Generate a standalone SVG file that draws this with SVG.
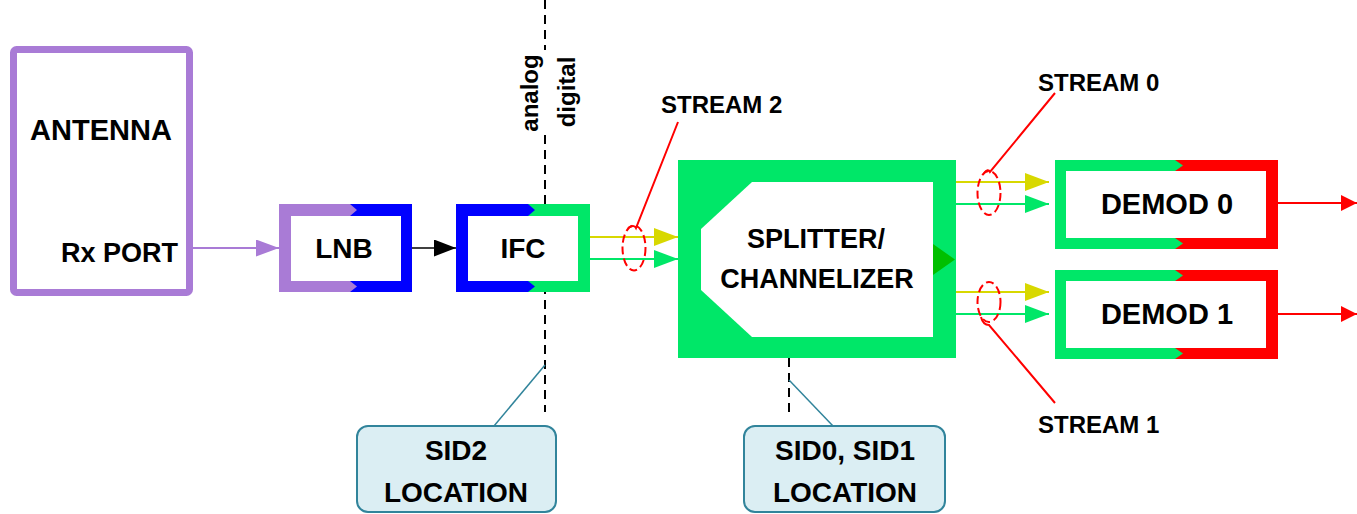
<svg xmlns="http://www.w3.org/2000/svg" width="1357" height="514" viewBox="0 0 1357 514">
  <style>
    .lbl { font-family: "Liberation Sans", Arial, sans-serif; font-weight: bold; fill: #000; }
    .mid { text-anchor: middle; }
    .dash { stroke: #000; stroke-width: 2; stroke-dasharray: 9 6; fill: none; }
    .lasso { fill: none; stroke: #ff0000; stroke-width: 2; stroke-dasharray: 8 4; }
    .lead { stroke: #ff0000; stroke-width: 2; fill: none; }
    .sid { fill: #dbeef3; stroke: #31849b; stroke-width: 2; }
    .sidlead { stroke: #31849b; stroke-width: 1.5; fill: none; }
  </style>
  <defs>
    <marker id="ahPurple" markerUnits="userSpaceOnUse" markerWidth="23" markerHeight="17" refX="23" refY="8.5" orient="auto">
      <path d="M0,0 L23,8.5 L0,17 z" fill="#a97bd6"/>
    </marker>
    <marker id="ahBlack" markerUnits="userSpaceOnUse" markerWidth="22" markerHeight="17" refX="22" refY="8.5" orient="auto">
      <path d="M0,0 L22,8.5 L0,17 z" fill="#000"/>
    </marker>
    <marker id="ahYellow" markerUnits="userSpaceOnUse" markerWidth="24" markerHeight="18" refX="24" refY="9" orient="auto">
      <path d="M0,0 L24,9 L0,18 z" fill="#d8d800"/>
    </marker>
    <marker id="ahGreen" markerUnits="userSpaceOnUse" markerWidth="24" markerHeight="18" refX="24" refY="9" orient="auto">
      <path d="M0,0 L24,9 L0,18 z" fill="#00e768"/>
    </marker>
    <marker id="ahRed" markerUnits="userSpaceOnUse" markerWidth="16" markerHeight="16" refX="16" refY="8" orient="auto">
      <path d="M0,0 L16,8 L0,16 z" fill="#ff0000"/>
    </marker>
  </defs>

  <!-- analog / digital boundary -->
  <g id="boundary">
    <line class="dash" x1="545" y1="0" x2="545" y2="50"/>
    <line class="dash" x1="545" y1="135" x2="545" y2="412"/>
    <text class="lbl mid" font-size="24" transform="translate(538,93) rotate(-90)">analog</text>
    <text class="lbl mid" font-size="24" transform="translate(575,92) rotate(-90)">digital</text>
    <line class="dash" x1="789" y1="358" x2="789" y2="413"/>
  </g>

  <!-- connectors -->
  <g id="connectors">
    <line x1="193" y1="248" x2="279" y2="248" stroke="#a97bd6" stroke-width="2" marker-end="url(#ahPurple)"/>
    <line x1="412" y1="248" x2="456" y2="248" stroke="#000" stroke-width="1.5" marker-end="url(#ahBlack)"/>
    <line x1="590" y1="237" x2="678" y2="237" stroke="#d8d800" stroke-width="2" marker-end="url(#ahYellow)"/>
    <line x1="590" y1="259" x2="678" y2="259" stroke="#00e768" stroke-width="2" marker-end="url(#ahGreen)"/>
    <line x1="955" y1="182" x2="1049" y2="182" stroke="#d8d800" stroke-width="2" marker-end="url(#ahYellow)"/>
    <line x1="955" y1="204" x2="1049" y2="204" stroke="#00e768" stroke-width="2" marker-end="url(#ahGreen)"/>
    <line x1="955" y1="292" x2="1049" y2="292" stroke="#d8d800" stroke-width="2" marker-end="url(#ahYellow)"/>
    <line x1="955" y1="314" x2="1049" y2="314" stroke="#00e768" stroke-width="2" marker-end="url(#ahGreen)"/>
    <line x1="1278" y1="203" x2="1357" y2="203" stroke="#ff0000" stroke-width="2" marker-end="url(#ahRed)"/>
    <line x1="1278" y1="314" x2="1357" y2="314" stroke="#ff0000" stroke-width="2" marker-end="url(#ahRed)"/>
  </g>

  <!-- antenna -->
  <g id="antenna">
    <rect x="13.5" y="49.5" width="176" height="243" rx="3" fill="#fff" stroke="#a97bd6" stroke-width="7"/>
    <text class="lbl mid" x="101" y="140" font-size="29">ANTENNA</text>
    <text class="lbl" x="178" y="262" font-size="27" text-anchor="end">Rx PORT</text>
  </g>

  <!-- LNB -->
  <g id="lnb">
    <rect x="279" y="204" width="133" height="88" fill="#0000ff"/>
    <path d="M279,204 H350 L357,210 L350,216 V281 L357,286.5 L350,292 H279 z" fill="#a97bd6"/>
    <rect x="291" y="216" width="110" height="65" fill="#fff"/>
    <text class="lbl mid" x="344" y="258" font-size="28">LNB</text>
  </g>

  <!-- IFC -->
  <g id="ifc">
    <rect x="456" y="204" width="134" height="88" fill="#00e768"/>
    <path d="M456,204 H528 L535,210 L528,216 V281 L535,286.5 L528,292 H456 z" fill="#0000ff"/>
    <rect x="468" y="216" width="110" height="65" fill="#fff"/>
    <text class="lbl mid" x="523" y="258" font-size="28">IFC</text>
  </g>

  <!-- splitter / channelizer -->
  <g id="splitter">
    <rect x="678" y="160" width="278" height="198" fill="#00e768"/>
    <path d="M752,182 H933 V337 H752 L701,290 V229 z" fill="#fff"/>
    <path d="M933,244 L955,259.5 L933,275 z" fill="#00bf00"/>
    <text class="lbl mid" x="816" y="248" font-size="27">SPLITTER/</text>
    <text class="lbl mid" x="817" y="288" font-size="27">CHANNELIZER</text>
  </g>

  <!-- demodulators -->
  <g id="demod0">
    <rect x="1055" y="160" width="223" height="89" fill="#ff0000"/>
    <path d="M1055,160 H1175 L1183,165.5 L1175,171 V238 L1183,243.5 L1175,249 H1055 z" fill="#00e768"/>
    <rect x="1066" y="171" width="200" height="67" fill="#fff"/>
    <text class="lbl mid" x="1167" y="214" font-size="29">DEMOD 0</text>
  </g>
  <g id="demod1">
    <rect x="1055" y="270" width="223" height="89" fill="#ff0000"/>
    <path d="M1055,270 H1175 L1183,275.5 L1175,281 V348 L1183,353.5 L1175,359 H1055 z" fill="#00e768"/>
    <rect x="1066" y="281" width="200" height="67" fill="#fff"/>
    <text class="lbl mid" x="1167" y="324" font-size="29">DEMOD 1</text>
  </g>

  <!-- stream callouts -->
  <g id="stream2">
    <ellipse class="lasso" cx="634" cy="248" rx="11.5" ry="22.5"/>
    <path class="lead" d="M628,228 Q634,224 636,228 L678,122"/>
    <text class="lbl" x="661" y="113" font-size="24">STREAM 2</text>
  </g>
  <g id="stream0">
    <ellipse class="lasso" cx="989" cy="193" rx="11.5" ry="22"/>
    <path class="lead" d="M984,173 Q988,168 990,172 L1055,93"/>
    <text class="lbl" x="1038" y="91" font-size="24">STREAM 0</text>
  </g>
  <g id="stream1">
    <ellipse class="lasso" cx="989" cy="302" rx="11.5" ry="20"/>
    <path class="lead" d="M981,317 Q983,325 989,325 L1055,403"/>
    <text class="lbl" x="1038" y="433" font-size="24">STREAM 1</text>
  </g>

  <!-- SID location notes -->
  <g id="sid2">
    <line class="sidlead" x1="545" y1="365" x2="494" y2="426"/>
    <rect class="sid" x="357" y="426" width="199" height="86" rx="11"/>
    <text class="lbl mid" x="456" y="460" font-size="28">SID2</text>
    <text class="lbl mid" x="456" y="502" font-size="28">LOCATION</text>
  </g>
  <g id="sid01">
    <line class="sidlead" x1="789" y1="380" x2="833" y2="426"/>
    <rect class="sid" x="744" y="426" width="201" height="86" rx="11"/>
    <text class="lbl mid" x="845" y="460" font-size="28">SID0, SID1</text>
    <text class="lbl mid" x="845" y="502" font-size="28">LOCATION</text>
  </g>
</svg>
